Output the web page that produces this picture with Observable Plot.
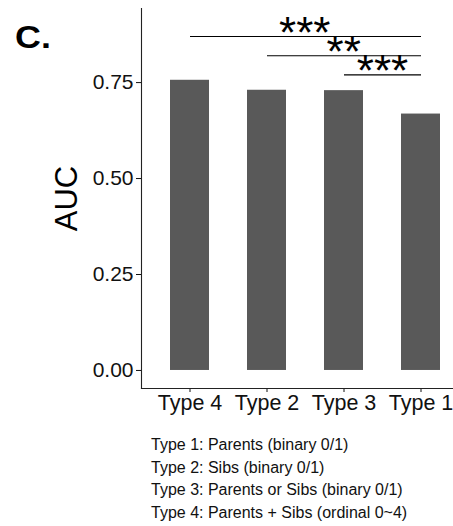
<!DOCTYPE html>
<html>
<head>
<meta charset="utf-8">
<script src="https://cdn.jsdelivr.net/npm/d3@7"></script>
<script src="https://cdn.jsdelivr.net/npm/@observablehq/plot@0.6"></script>
<style>
  html, body { margin: 0; padding: 0; background: #fff; }
  body { width: 453px; height: 526px; position: relative; overflow: hidden; font-family: "Liberation Sans", Arial, sans-serif; }
  #chart { position: absolute; left: 0; top: 0; }
  #panel { position: absolute; left: 15px; top: 20.5px; font-size: 32px; font-weight: bold; line-height: 1; transform: scaleX(1.12); transform-origin: left top; color: #000; }
  #caption { position: absolute; left: 151px; top: 434px; font-size: 16px; line-height: 22.6px; color: #111; }
</style>
</head>
<body>
<div id="chart"></div>
<div id="panel">C.</div>
<div id="caption"></div>
<script>
// ---- data ----
const categories = ["Type 4", "Type 2", "Type 3", "Type 1"];
const auc = [0.756, 0.730, 0.729, 0.668];
const yTicks = [0, 0.25, 0.5, 0.75];
const bracketFrom = ["Type 4", "Type 2", "Type 3"];
const bracketTo = ["Type 1", "Type 1", "Type 1"];
const bracketY = [0.870, 0.820, 0.770];
const bracketLabels = ["***", "**", "***"];
const captionLines = [
  "Type 1: Parents (binary 0/1)",
  "Type 2: Sibs (binary 0/1)",
  "Type 3: Parents or Sibs (binary 0/1)",
  "Type 4: Parents + Sibs (ordinal 0~4)"
];
const yLabel = "AUC";

// ---- layout ----
const W = 453, H = 420, mL = 141, mT = 8, mB = 32, mR = 0;
const xOpts = { type: "band", domain: categories, range: [141, 467.6], paddingInner: 0.5, paddingOuter: 0.35, align: 0.5 };
const yOpts = { domain: [-0.047, 0.943] };

const bars = categories.map((c, i) => ({ type: c, auc: auc[i] }));
const brackets = bracketFrom.map((f, i) => ({ from: f, to: bracketTo[i], y: bracketY[i], label: bracketLabels[i] }));

const xs = Plot.scale({ x: xOpts });
const bw = xs.bandwidth || 0;
const starMarks = brackets.map(b => {
  const mid = (xs.apply(b.from) + xs.apply(b.to)) / 2 + bw / 2;
  return Plot.text([b], {
    y: "y", text: "label", frameAnchor: "left", dx: mid - mL, dy: -3,
    fontSize: 44, lineAnchor: "middle", textAnchor: "middle", fill: "#000"
  });
});

const plot = Plot.plot({
  width: W, height: H,
  marginLeft: mL, marginTop: mT, marginBottom: mB, marginRight: mR,
  style: { fontFamily: "'Liberation Sans', Arial, sans-serif", background: "#fff", overflow: "visible" },
  x: { ...xOpts, axis: null },
  y: { ...yOpts, axis: null },
  marks: [
    Plot.barY(bars, { x: "type", y: "auc", fill: "#595959" }),
    Plot.axisY(yTicks, { tickFormat: d3.format(".2f"), tickSize: 5, tickPadding: 3, fontSize: 21, label: null, color: "#111" }),
    Plot.axisX({ tickSize: 4, tickPadding: 2, fontSize: 21.5, label: null, color: "#111" }),
    Plot.frame({ anchor: "left", stroke: "#222", strokeWidth: 1.1 }),
    Plot.frame({ anchor: "bottom", stroke: "#222", strokeWidth: 1.1 }),
    Plot.link(brackets, { x1: "from", x2: "to", y1: "y", y2: "y", stroke: "#000", strokeWidth: 1.1 }),
    ...starMarks,
    Plot.text([yLabel], { text: d => d, frameAnchor: "left", dx: -74, rotate: -90, fontSize: 31, lineAnchor: "middle", textAnchor: "middle", fill: "#000" })
  ]
});
document.getElementById("chart").appendChild(plot);

const cap = document.getElementById("caption");
captionLines.forEach(t => { const d = document.createElement("div"); d.textContent = t; cap.appendChild(d); });
</script>
</body>
</html>
